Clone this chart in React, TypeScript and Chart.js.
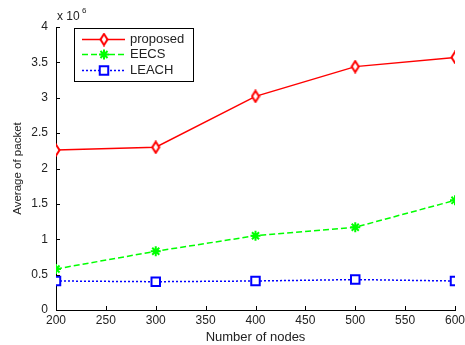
import React, { useEffect, useRef } from "react";
import { Chart, registerables } from "chart.js";

Chart.register(...registerables);

const nodes = [200, 300, 400, 500, 600];
const proposed = [2.26, 2.3, 3.02, 3.44, 3.57];
const eecs = [0.58, 0.83, 1.05, 1.17, 1.55];
const leach = [0.41, 0.4, 0.41, 0.43, 0.41];
const seriesNames = ["proposed", "EECS", "LEACH"];
const xTitle = "Number of nodes";
const yTitle = "Average of packet";

const FONT = "'Liberation Sans', Arial, sans-serif";

function makeDiamond(color: string): HTMLCanvasElement {
  const c = document.createElement("canvas");
  c.width = 10;
  c.height = 14;
  const ctx = c.getContext("2d")!;
  ctx.strokeStyle = color;
  ctx.fillStyle = "#fff";
  ctx.lineWidth = 2;
  ctx.beginPath();
  ctx.moveTo(5, 1.5);
  ctx.lineTo(8.5, 7);
  ctx.lineTo(5, 12.5);
  ctx.lineTo(1.5, 7);
  ctx.closePath();
  ctx.fill();
  ctx.stroke();
  return c;
}

const inwardTicks = {
  id: "inwardTicks",
  afterDraw(chart: any) {
    const ctx = chart.ctx;
    const { left, bottom } = chart.chartArea;
    ctx.save();
    ctx.strokeStyle = "#000";
    ctx.lineWidth = 1;
    const xs = chart.scales.x;
    xs.ticks.forEach((t: any) => {
      const px = Math.round(xs.getPixelForValue(t.value)) + 0.5;
      ctx.beginPath();
      ctx.moveTo(px, bottom);
      ctx.lineTo(px, bottom - 4);
      ctx.stroke();
    });
    const ys = chart.scales.y;
    ys.ticks.forEach((t: any) => {
      const py = Math.round(ys.getPixelForValue(t.value)) + 0.5;
      ctx.beginPath();
      ctx.moveTo(left, py);
      ctx.lineTo(left + 4, py);
      ctx.stroke();
    });
    ctx.fillStyle = "#222";
    ctx.font = `12px ${FONT}`;
    ctx.textBaseline = "alphabetic";
    ctx.textAlign = "left";
    ctx.fillText("x 10", 57, 20);
    ctx.font = `8px ${FONT}`;
    ctx.fillText("6", 82, 13);
    ctx.restore();
  },
};

const boxLegend = {
  id: "boxLegend",
  afterDraw(chart: any) {
    const ctx = chart.ctx;
    const x0 = 74, y0 = 28, w = 119, h = 53;
    ctx.save();
    ctx.fillStyle = "#fff";
    ctx.fillRect(x0, y0, w, h);
    ctx.strokeStyle = "#000";
    ctx.lineWidth = 1;
    ctx.strokeRect(x0 + 0.5, y0 + 0.5, w, h);
    const rows = [39, 54, 70];
    chart.data.datasets.forEach((ds: any, i: number) => {
      const y = rows[i] + 0.5;
      ctx.strokeStyle = ds.borderColor;
      ctx.lineWidth = ds.borderWidth;
      ctx.setLineDash(ds.borderDash || []);
      ctx.beginPath();
      ctx.moveTo(82, y);
      ctx.lineTo(125, y);
      ctx.stroke();
      ctx.setLineDash([]);
      ctx.lineWidth = ds.pointBorderWidth;
      ctx.strokeStyle = ds.pointBorderColor;
      ctx.fillStyle = ds.pointBackgroundColor;
      drawPoint(ctx, ds.pointStyle, ds.pointRadius, 104, y);
      ctx.fillStyle = "#222";
      ctx.font = `13px ${FONT}`;
      ctx.textBaseline = "middle";
      ctx.textAlign = "left";
      ctx.fillText(ds.label, 130, y);
    });
    ctx.restore();
  },
};

function drawPoint(ctx: CanvasRenderingContext2D, style: any, r: number, x: number, y: number) {
  if (typeof style !== "string") {
    ctx.drawImage(style, x - style.width / 2, y - style.height / 2);
    return;
  }
  ctx.beginPath();
  if (style === "rect") {
    const s = r / Math.SQRT2;
    ctx.rect(x - s, y - s, 2 * s, 2 * s);
    ctx.fill();
    ctx.stroke();
  } else if (style === "star") {
    for (let k = 0; k < 4; k++) {
      const a = (k * Math.PI) / 4;
      ctx.moveTo(x + Math.cos(a) * r, y + Math.sin(a) * r);
      ctx.lineTo(x - Math.cos(a) * r, y - Math.sin(a) * r);
    }
    ctx.stroke();
  }
}

export default function App() {
  const ref = useRef<HTMLCanvasElement>(null);
  useEffect(() => {
    if (!ref.current) return;
    const diamond = makeDiamond("#ff0000");
    const mk = (label: string, vals: number[], color: string, style: any, dash: number[], r: number) => ({
      label,
      data: nodes.map((n, i) => ({ x: n, y: vals[i] })),
      borderColor: color,
      backgroundColor: color,
      borderWidth: 1.5,
      borderDash: dash,
      pointStyle: style,
      pointRadius: r,
      pointHoverRadius: r,
      pointBorderColor: color,
      pointBackgroundColor: style === "star" ? color : "#fff",
      pointBorderWidth: 2,
      fill: false,
      tension: 0,
    });
    const tickFont = { family: FONT, size: 12 };
    const chart = new Chart(ref.current, {
      type: "line",
      data: {
        datasets: [
          mk(seriesNames[0], proposed, "#ff0000", diamond, [], 5),
          mk(seriesNames[1], eecs, "#00ff00", "star", [6, 3], 5),
          mk(seriesNames[2], leach, "#0000ff", "rect", [2, 2], 6),
        ],
      },
      plugins: [inwardTicks, boxLegend],
      options: {
        animation: false,
        responsive: false,
        maintainAspectRatio: false,
        layout: { padding: { left: 0, top: 27, right: 25, bottom: 0 } },
        plugins: { legend: { display: false }, tooltip: { enabled: false } },
        scales: {
          x: {
            type: "linear",
            min: 200,
            max: 600,
            grid: { display: false, drawTicks: false },
            border: { color: "#000", width: 1 },
            ticks: { stepSize: 50, color: "#222", font: tickFont, padding: 3, maxRotation: 0 },
            title: { display: true, text: xTitle, color: "#222", font: { family: FONT, size: 13 }, padding: { top: 0, bottom: 0 } },
            afterFit: (s: any) => { s.height = 35; },
          },
          y: {
            min: 0,
            max: 4,
            grid: { display: false, drawTicks: false },
            border: { color: "#000", width: 1 },
            ticks: {
              stepSize: 0.5,
              color: "#222",
              font: tickFont,
              padding: 8,
              callback: (v: any) => String(Number(v)),
            },
            title: { display: true, text: yTitle, color: "#222", font: { family: FONT, size: 11.5 }, padding: { top: 11, bottom: 0 } },
            afterFit: (s: any) => { s.width = 56; },
          },
        },
      } as any,
    });
    return () => chart.destroy();
  }, []);
  return (
    <div style={{ position: "fixed", left: 0, top: 0, width: 465, height: 345, overflow: "hidden", background: "#fff" }}>
      <canvas ref={ref} width={480} height={345} style={{ display: "block" }} />
    </div>
  );
}
